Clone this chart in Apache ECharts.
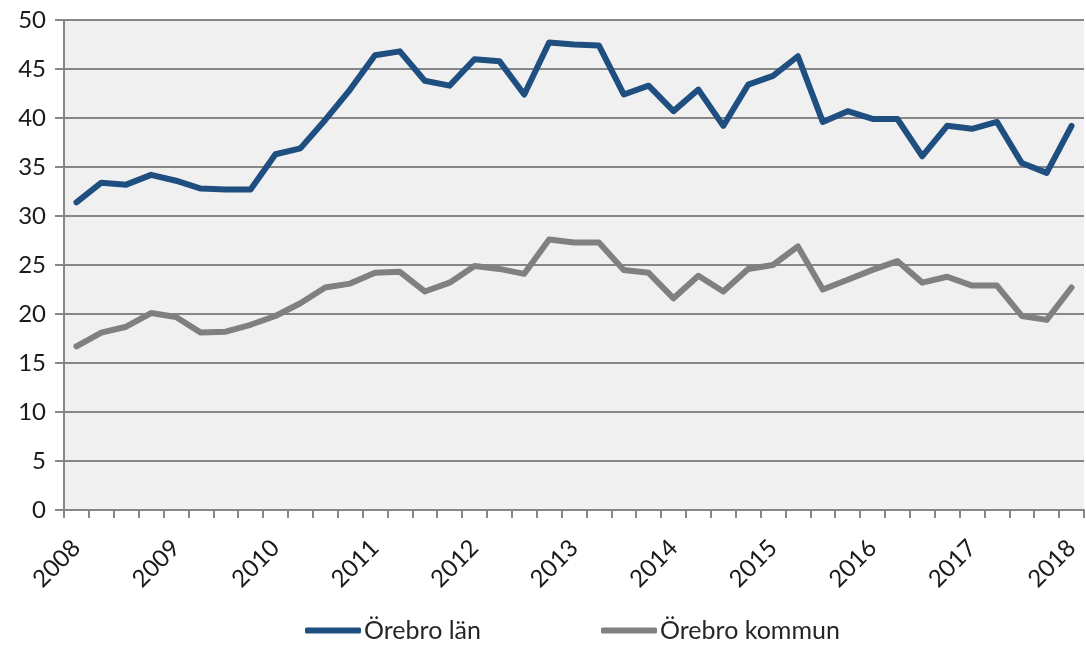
<!DOCTYPE html>
<html>
<head>
<meta charset="utf-8">
<script src="https://cdn.jsdelivr.net/npm/echarts@6/dist/echarts.min.js"></script>
<style>
  html, body { margin: 0; padding: 0; background: #fff; }
  #main { width: 1086px; height: 646px; }
</style>
</head>
<body>
<div id="main"></div>
<script>
// kvartal 2008 K1 - 2018 K1
var years = ['2008','2009','2010','2011','2012','2013','2014','2015','2016','2017','2018'];
var quarters = [];
years.forEach(function (y, i) {
    for (var q = 1; q <= 4; q++) {
        if (i === years.length - 1 && q > 1) break;
        quarters.push(y + ' K' + q);
    }
});

var orebroLan = [31.4, 33.4, 33.2, 34.2, 33.6, 32.8, 32.7, 32.7, 36.3, 36.9,
                 39.8, 42.9, 46.4, 46.8, 43.8, 43.3, 46.0, 45.8, 42.4, 47.7,
                 47.5, 47.4, 42.4, 43.3, 40.7, 42.9, 39.2, 43.4, 44.3, 46.3,
                 39.6, 40.7, 39.9, 39.9, 36.1, 39.2, 38.9, 39.6, 35.4, 34.4,
                 39.2];
var orebroKommun = [16.7, 18.1, 18.7, 20.1, 19.7, 18.1, 18.2, 18.9, 19.8, 21.1,
                    22.7, 23.1, 24.2, 24.3, 22.3, 23.2, 24.9, 24.6, 24.1, 27.6,
                    27.3, 27.3, 24.5, 24.2, 21.6, 23.9, 22.3, 24.6, 25.0, 26.9,
                    22.5, 23.5, 24.5, 25.4, 23.2, 23.8, 22.9, 22.9, 19.8, 19.4,
                    22.7];
var yTicks = { min: 0, max: 50, interval: 5 };

var myChart = echarts.init(document.getElementById('main'));

var font = 'Lato, "Open Sans", sans-serif';

option = {
    animation: false,
    grid: {
        left: 64,
        right: 2,
        top: 20,
        bottom: 136,
        show: true,
        backgroundColor: '#f0f0f0',
        borderWidth: 0
    },
    legend: {
        bottom: -2,
        left: 300,
        itemGap: 120,
        itemWidth: 56,
        itemHeight: 6,
        icon: 'roundRect',
        textStyle: { fontFamily: font, fontSize: 25, color: '#262626', padding: [0, 0, 0, -2] },
        data: ['Örebro län', 'Örebro kommun']
    },
    xAxis: {
        type: 'category',
        data: quarters,
        boundaryGap: true,
        axisLine: { lineStyle: { color: '#868686', width: 2 } },
        axisTick: { show: true, interval: 0, length: 8, lineStyle: { color: '#868686', width: 2 } },
        axisLabel: {
            interval: 3,
            rotate: 45,
            margin: 34,
            fontFamily: font,
            fontSize: 24,
            color: '#1a1a1a',
            formatter: function (v) { return v.slice(0, 4); }
        },
        splitLine: { show: false }
    },
    yAxis: {
        type: 'value',
        min: yTicks.min,
        max: yTicks.max,
        interval: yTicks.interval,
        axisLine: { show: true, lineStyle: { color: '#868686', width: 2 } },
        axisTick: { show: true, length: 9, lineStyle: { color: '#868686', width: 2 } },
        axisLabel: { fontFamily: font, fontSize: 24, color: '#1a1a1a', margin: 18 },
        splitLine: { lineStyle: { color: '#868686', width: 2 } }
    },
    series: [
        {
            name: 'Örebro län',
            type: 'line',
            data: orebroLan,
            symbol: 'none',
            color: '#1f4e80',
            lineStyle: { width: 6, color: '#1f4e80', join: 'round', cap: 'round' }
        },
        {
            name: 'Örebro kommun',
            type: 'line',
            data: orebroKommun,
            symbol: 'none',
            color: '#808080',
            lineStyle: { width: 6, color: '#808080', join: 'round', cap: 'round' }
        }
    ]
};

myChart.setOption(option);
</script>
</body>
</html>
